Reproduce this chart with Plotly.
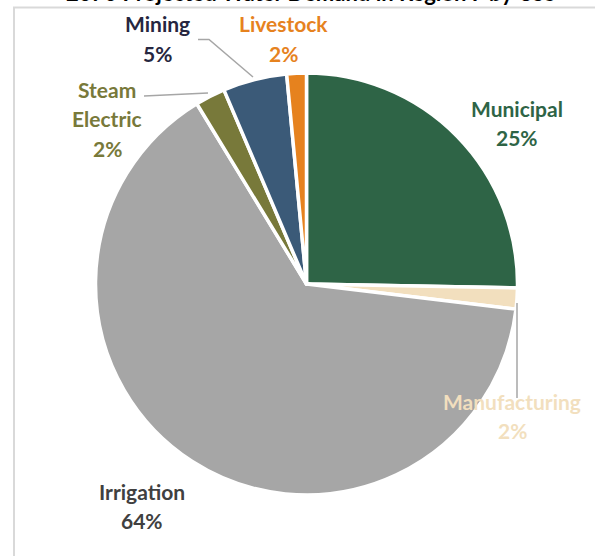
import plotly.graph_objects as go

W, H = 595, 556

categories = ["Municipal", "Manufacturing", "Irrigation", "Steam Electric", "Mining", "Livestock"]
values = [25.3, 1.6, 64.4, 2.3, 4.9, 1.5]
colors = ["#2e6446", "#f2dfbe", "#a6a6a6", "#78793a", "#3b5a78", "#e6821e"]
label_colors = ["#2e6446", "#f2dfbe", "#404040", "#78793a", "#262640", "#e6821e"]
label_lines = [["Municipal"], ["Manufacturing"], ["Irrigation"], ["Steam", "Electric"], ["Mining"], ["Livestock"]]
title_text = "2070 Projected Water Demand in Region F by Use"

# label anchor (center x, first line y) in pixels
label_pos = [(517, 108), (512, 401), (142, 491), (107, 89), (157, 24), (283, 24)]
LINE_GAP = 29.5

def px(x):
    return x / W

def py(y):
    return 1 - y / H

cx, cy, r = 306.5, 284, 211

fig = go.Figure(go.Pie(
    labels=categories,
    values=values,
    sort=False,
    direction="clockwise",
    rotation=0,
    marker=dict(colors=colors, line=dict(color="white", width=3.5)),
    textinfo="none",
    hoverinfo="label+percent",
    showlegend=False,
    domain=dict(x=[px(cx - r), px(cx + r)], y=[py(cy + r), py(cy - r)]),
))

total = sum(values)
annotations = []
for name_lines, v, col, (x, y) in zip(label_lines, values, label_colors, label_pos):
    lines = name_lines + [f"{round(v / total * 100):d}%"]
    for i, t in enumerate(lines):
        annotations.append(dict(
            x=px(x), y=py(y + i * LINE_GAP), xref="paper", yref="paper",
            text=f"<b>{t}</b>", showarrow=False, xanchor="center", yanchor="middle",
            font=dict(family="Lato", size=21, color=col),
        ))

# cropped title at the very top
annotations.append(dict(
    x=px(310), y=py(8.5), xref="paper", yref="paper",
    text=f"<b>{title_text}</b>", showarrow=False, xanchor="center", yanchor="bottom",
    font=dict(family="Lato", size=22, color="#000000"),
))

shapes = [
    # outer chart border
    dict(type="rect", xref="paper", yref="paper",
         x0=px(14), y0=py(H + 5), x1=px(W + 5), y1=py(7.5),
         line=dict(color="#d9d9d9", width=2), fillcolor="rgba(0,0,0,0)"),
    # Mining leader
    dict(type="path", xref="paper", yref="paper",
         path=f"M {px(198)} {py(39.5)} L {px(209)} {py(39.5)} L {px(253)} {py(77)}",
         line=dict(color="#a6a6a6", width=1.5)),
    # Steam Electric leader
    dict(type="line", xref="paper", yref="paper",
         x0=px(144), y0=py(96), x1=px(208), y1=py(93),
         line=dict(color="#a6a6a6", width=1.5)),
    # Manufacturing leader
    dict(type="line", xref="paper", yref="paper",
         x0=px(517), y0=py(303), x1=px(517), y1=py(398),
         line=dict(color="#a6a6a6", width=1.5)),
]

fig.update_layout(
    width=W, height=H,
    margin=dict(l=0, r=0, t=0, b=0),
    paper_bgcolor="white",
    plot_bgcolor="white",
    annotations=annotations,
    shapes=shapes,
)

fig.write_html("out.html", config={"displayModeBar": False})

# remove default page margin so the figure sits at the window's top-left
with open("out.html", "r", encoding="utf-8") as f:
    html = f.read()
html = html.replace("<body>", '<body style="margin:0;overflow:hidden">', 1)
with open("out.html", "w", encoding="utf-8") as f:
    f.write(html)
